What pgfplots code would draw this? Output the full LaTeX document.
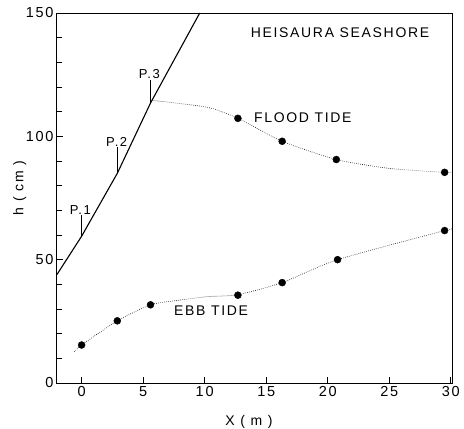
\documentclass[border=0pt]{standalone}
\usepackage{fontspec}
\setmainfont{Liberation Sans}[LetterSpace=12]
\usepackage{pgfplots}
\pgfplotsset{compat=1.18}
\begin{document}
\begin{tikzpicture}
\begin{axis}[
  scale only axis, width=395pt, height=370pt,
  xmin=-2, xmax=30.1, ymin=0, ymax=150,
  axis line style={line width=1pt},
  xtick={0,5,...,30}, ytick={0,50,100,150}, minor ytick={10,20,...,140},
  tick align=inside, xtick pos=bottom, ytick pos=left,
  major tick length=6pt, minor tick length=5pt,
  tick style={black, line width=0.8pt},
  ticklabel style={font=\fontsize{14.5}{16}\selectfont},
  /pgf/number format/assume math mode=true,
  xlabel={X ( m )}, ylabel={h ( cm )},
  label style={font=\fontsize{14}{16}\selectfont},
  xlabel style={at={(axis description cs:0.486,-0.106)}, anchor=center},
  ylabel style={at={(axis description cs:-0.094,0.527)}, anchor=center},
  clip=false,
]
% beach profile
\addplot[black, line width=1.1pt] coordinates {(-2,44) (0,59.5) (2.9,85) (5.6,113.5) (9.6,150)};
% P markers
\addplot[black, line width=0.9pt] coordinates {(0,59.5) (0,68)};
\addplot[black, line width=0.9pt] coordinates {(2.9,85) (2.9,95.5)};
\addplot[black, line width=0.9pt] coordinates {(5.6,113.5) (5.6,123)};
% flood tide
\addplot[black, line width=0.6pt, dash pattern=on 0.6pt off 1.4pt, smooth, tension=0.4] coordinates {(5.7,114.6) (10.2,111.8) (12.7,107.3) (16.3,98) (20.7,90.6) (25,87) (29.5,85.4) (30.1,85.3)};
\addplot[black, only marks, mark=*, mark size=3.5pt] coordinates {(12.7,107.3) (16.3,98) (20.7,90.6) (29.5,85.4)};
% ebb tide
\addplot[black, line width=0.6pt, dash pattern=on 0.6pt off 1.4pt, smooth, tension=0.4] coordinates {(-0.6,12.6) (0,15.4) (2.9,25.2) (5.6,31.7) (7.5,33.3) (10.2,35) (12.7,35.8) (16.3,40.7) (20.8,50) (29.5,61.8) (30.1,62.2)};
\addplot[black, only marks, mark=*, mark size=3.5pt] coordinates {(0,15.4) (2.9,25.2) (5.6,31.7) (12.7,35.6) (16.3,40.7) (20.8,50) (29.5,61.8)};
% labels
\node[font=\fontsize{14}{16}\selectfont] at (axis cs:21,142) {HEISAURA SEASHORE};
\node[font=\fontsize{14}{16}\selectfont, anchor=west, inner sep=0pt] at (axis cs:14.0,107.7) {FLOOD TIDE};
\node[font=\fontsize{14}{16}\selectfont, anchor=west, inner sep=0pt] at (axis cs:7.5,29.3) {EBB TIDE};
\node[font=\fontsize{13}{15}\selectfont, anchor=south, inner sep=1pt] at (axis cs:-0.1,68) {P.1};
\node[font=\fontsize{13}{15}\selectfont, anchor=south, inner sep=1pt] at (axis cs:2.85,95.5) {P.2};
\node[font=\fontsize{13}{15}\selectfont, anchor=south, inner sep=1pt] at (axis cs:5.5,123) {P.3};
\end{axis}
\pgfresetboundingbox
\path ([shift={(-57pt,-46pt)}]current axis.south west) rectangle ([shift={(12pt,13pt)}]current axis.north east);
\end{tikzpicture}
\end{document}
